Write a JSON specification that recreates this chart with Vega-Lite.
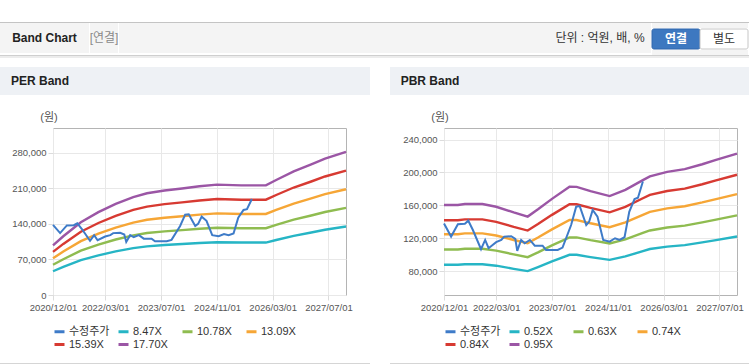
{
  "$schema": "https://vega.github.io/schema/vega-lite/v6.json",
  "padding": {"top": 22, "left": 0, "right": 0, "bottom": 0},
  "background": "#ffffff",
  "spacing": 0,
  "config": {
    "font": "'Liberation Sans', 'Noto Sans CJK KR', sans-serif",
    "view": {"stroke": null},
    "concat": {"spacing": 0}
  },
  "datasets": {
    "per": [
      {"date":"2020-12-01","series":"8.47X","value":46754},{"date":"2020-12-01","series":"10.78X","value":59506},{"date":"2020-12-01","series":"13.09X","value":72257},{"date":"2020-12-01","series":"15.39X","value":84953},{"date":"2020-12-01","series":"17.70X","value":97704},
      {"date":"2021-03-01","series":"8.47X","value":55394},{"date":"2021-03-01","series":"10.78X","value":70501},{"date":"2021-03-01","series":"13.09X","value":85609},{"date":"2021-03-01","series":"15.39X","value":100651},{"date":"2021-03-01","series":"17.70X","value":115758},
      {"date":"2021-08-01","series":"8.47X","value":68607},{"date":"2021-08-01","series":"10.78X","value":87318},{"date":"2021-08-01","series":"13.09X","value":106029},{"date":"2021-08-01","series":"15.39X","value":124659},{"date":"2021-08-01","series":"17.70X","value":143370},
      {"date":"2022-01-01","series":"8.47X","value":78093},{"date":"2022-01-01","series":"10.78X","value":99392},{"date":"2022-01-01","series":"13.09X","value":120690},{"date":"2022-01-01","series":"15.39X","value":141896},{"date":"2022-01-01","series":"17.70X","value":163194},
      {"date":"2022-06-01","series":"8.47X","value":85886},{"date":"2022-06-01","series":"10.78X","value":109309},{"date":"2022-06-01","series":"13.09X","value":132733},{"date":"2022-06-01","series":"15.39X","value":156055},{"date":"2022-06-01","series":"17.70X","value":179478},
      {"date":"2022-11-01","series":"8.47X","value":92323},{"date":"2022-11-01","series":"10.78X","value":117502},{"date":"2022-11-01","series":"13.09X","value":142681},{"date":"2022-11-01","series":"15.39X","value":167751},{"date":"2022-11-01","series":"17.70X","value":192930},
      {"date":"2023-03-01","series":"8.47X","value":95880},{"date":"2023-03-01","series":"10.78X","value":122030},{"date":"2023-03-01","series":"13.09X","value":148179},{"date":"2023-03-01","series":"15.39X","value":174215},{"date":"2023-03-01","series":"17.70X","value":200364},
      {"date":"2023-08-01","series":"8.47X","value":98506},{"date":"2023-08-01","series":"10.78X","value":125371},{"date":"2023-08-01","series":"13.09X","value":152237},{"date":"2023-08-01","series":"15.39X","value":178986},{"date":"2023-08-01","series":"17.70X","value":205851},
      {"date":"2024-01-01","series":"8.47X","value":100454},{"date":"2024-01-01","series":"10.78X","value":127851},{"date":"2024-01-01","series":"13.09X","value":155247},{"date":"2024-01-01","series":"15.39X","value":182525},{"date":"2024-01-01","series":"17.70X","value":209922},
      {"date":"2024-06-01","series":"8.47X","value":102487},{"date":"2024-06-01","series":"10.78X","value":130438},{"date":"2024-06-01","series":"13.09X","value":158389},{"date":"2024-06-01","series":"15.39X","value":186219},{"date":"2024-06-01","series":"17.70X","value":214170},
      {"date":"2024-11-01","series":"8.47X","value":104012},{"date":"2024-11-01","series":"10.78X","value":132378},{"date":"2024-11-01","series":"13.09X","value":160745},{"date":"2024-11-01","series":"15.39X","value":188989},{"date":"2024-11-01","series":"17.70X","value":217356},
      {"date":"2025-06-01","series":"8.47X","value":103334},{"date":"2025-06-01","series":"10.78X","value":131516},{"date":"2025-06-01","series":"13.09X","value":159698},{"date":"2025-06-01","series":"15.39X","value":187758},{"date":"2025-06-01","series":"17.70X","value":215940},
      {"date":"2026-01-01","series":"8.47X","value":103334},{"date":"2026-01-01","series":"10.78X","value":131516},{"date":"2026-01-01","series":"13.09X","value":159698},{"date":"2026-01-01","series":"15.39X","value":187758},{"date":"2026-01-01","series":"17.70X","value":215940},
      {"date":"2026-04-01","series":"8.47X","value":108416},{"date":"2026-04-01","series":"10.78X","value":137984},{"date":"2026-04-01","series":"13.09X","value":167552},{"date":"2026-04-01","series":"15.39X","value":196992},{"date":"2026-04-01","series":"17.70X","value":226560},
      {"date":"2026-09-01","series":"8.47X","value":116547},{"date":"2026-09-01","series":"10.78X","value":148333},{"date":"2026-09-01","series":"13.09X","value":180118},{"date":"2026-09-01","series":"15.39X","value":211766},{"date":"2026-09-01","series":"17.70X","value":243552},
      {"date":"2027-02-01","series":"8.47X","value":123069},{"date":"2027-02-01","series":"10.78X","value":156633},{"date":"2027-02-01","series":"13.09X","value":190198},{"date":"2027-02-01","series":"15.39X","value":223617},{"date":"2027-02-01","series":"17.70X","value":257181},
      {"date":"2027-06-01","series":"8.47X","value":128490},{"date":"2027-06-01","series":"10.78X","value":163533},{"date":"2027-06-01","series":"13.09X","value":198575},{"date":"2027-06-01","series":"15.39X","value":233466},{"date":"2027-06-01","series":"17.70X","value":268509},
      {"date":"2027-12-01","series":"8.47X","value":134842},{"date":"2027-12-01","series":"10.78X","value":171618},{"date":"2027-12-01","series":"13.09X","value":208393},{"date":"2027-12-01","series":"15.39X","value":245009},{"date":"2027-12-01","series":"17.70X","value":281784}
    ],
    "pbr": [
      {"date":"2020-12-01","series":"0.52X","value":87776},{"date":"2020-12-01","series":"0.63X","value":106344},{"date":"2020-12-01","series":"0.74X","value":124912},{"date":"2020-12-01","series":"0.84X","value":141792},{"date":"2020-12-01","series":"0.95X","value":160360},
      {"date":"2021-04-01","series":"0.52X","value":87776},{"date":"2021-04-01","series":"0.63X","value":106344},{"date":"2021-04-01","series":"0.74X","value":124912},{"date":"2021-04-01","series":"0.84X","value":141792},{"date":"2021-04-01","series":"0.95X","value":160360},
      {"date":"2021-06-01","series":"0.52X","value":88452},{"date":"2021-06-01","series":"0.63X","value":107163},{"date":"2021-06-01","series":"0.74X","value":125874},{"date":"2021-06-01","series":"0.84X","value":142884},{"date":"2021-06-01","series":"0.95X","value":161595},
      {"date":"2021-11-01","series":"0.52X","value":88452},{"date":"2021-11-01","series":"0.63X","value":107163},{"date":"2021-11-01","series":"0.74X","value":125874},{"date":"2021-11-01","series":"0.84X","value":142884},{"date":"2021-11-01","series":"0.95X","value":161595},
      {"date":"2022-03-01","series":"0.52X","value":86632},{"date":"2022-03-01","series":"0.63X","value":104958},{"date":"2022-03-01","series":"0.74X","value":123284},{"date":"2022-03-01","series":"0.84X","value":139944},{"date":"2022-03-01","series":"0.95X","value":158270},
      {"date":"2022-08-01","series":"0.52X","value":82836},{"date":"2022-08-01","series":"0.63X","value":100359},{"date":"2022-08-01","series":"0.74X","value":117882},{"date":"2022-08-01","series":"0.84X","value":133812},{"date":"2022-08-01","series":"0.95X","value":151335},
      {"date":"2022-12-01","series":"0.52X","value":80080},{"date":"2022-12-01","series":"0.63X","value":97020},{"date":"2022-12-01","series":"0.74X","value":113960},{"date":"2022-12-01","series":"0.84X","value":129360},{"date":"2022-12-01","series":"0.95X","value":146300},
      {"date":"2023-03-01","series":"0.52X","value":84916},{"date":"2023-03-01","series":"0.63X","value":102879},{"date":"2023-03-01","series":"0.74X","value":120842},{"date":"2023-03-01","series":"0.84X","value":137172},{"date":"2023-03-01","series":"0.95X","value":155135},
      {"date":"2023-07-01","series":"0.52X","value":91884},{"date":"2023-07-01","series":"0.63X","value":111321},{"date":"2023-07-01","series":"0.74X","value":130758},{"date":"2023-07-01","series":"0.84X","value":148428},{"date":"2023-07-01","series":"0.95X","value":167865},
      {"date":"2023-12-01","series":"0.52X","value":99892},{"date":"2023-12-01","series":"0.63X","value":121023},{"date":"2023-12-01","series":"0.74X","value":142154},{"date":"2023-12-01","series":"0.84X","value":161364},{"date":"2023-12-01","series":"0.95X","value":182495},
      {"date":"2024-02-01","series":"0.52X","value":99840},{"date":"2024-02-01","series":"0.63X","value":120960},{"date":"2024-02-01","series":"0.74X","value":142080},{"date":"2024-02-01","series":"0.84X","value":161280},{"date":"2024-02-01","series":"0.95X","value":182400},
      {"date":"2024-06-01","series":"0.52X","value":97084},{"date":"2024-06-01","series":"0.63X","value":117621},{"date":"2024-06-01","series":"0.74X","value":138158},{"date":"2024-06-01","series":"0.84X","value":156828},{"date":"2024-06-01","series":"0.95X","value":177365},
      {"date":"2024-11-15","series":"0.52X","value":93756},{"date":"2024-11-15","series":"0.63X","value":113589},{"date":"2024-11-15","series":"0.74X","value":133422},{"date":"2024-11-15","series":"0.84X","value":151452},{"date":"2024-11-15","series":"0.95X","value":171285},
      {"date":"2025-04-01","series":"0.52X","value":97864},{"date":"2025-04-01","series":"0.63X","value":118566},{"date":"2025-04-01","series":"0.74X","value":139268},{"date":"2025-04-01","series":"0.84X","value":158088},{"date":"2025-04-01","series":"0.95X","value":178790},
      {"date":"2025-09-01","series":"0.52X","value":104364},{"date":"2025-09-01","series":"0.63X","value":126441},{"date":"2025-09-01","series":"0.74X","value":148518},{"date":"2025-09-01","series":"0.84X","value":168588},{"date":"2025-09-01","series":"0.95X","value":190665},
      {"date":"2025-11-01","series":"0.52X","value":106860},{"date":"2025-11-01","series":"0.63X","value":129465},{"date":"2025-11-01","series":"0.74X","value":152070},{"date":"2025-11-01","series":"0.84X","value":172620},{"date":"2025-11-01","series":"0.95X","value":195225},
      {"date":"2026-04-01","series":"0.52X","value":109824},{"date":"2026-04-01","series":"0.63X","value":133056},{"date":"2026-04-01","series":"0.74X","value":156288},{"date":"2026-04-01","series":"0.84X","value":177408},{"date":"2026-04-01","series":"0.95X","value":200640},
      {"date":"2026-09-01","series":"0.52X","value":111644},{"date":"2026-09-01","series":"0.63X","value":135261},{"date":"2026-09-01","series":"0.74X","value":158878},{"date":"2026-09-01","series":"0.84X","value":180348},{"date":"2026-09-01","series":"0.95X","value":203965},
      {"date":"2027-02-01","series":"0.52X","value":114920},{"date":"2027-02-01","series":"0.63X","value":139230},{"date":"2027-02-01","series":"0.74X","value":163540},{"date":"2027-02-01","series":"0.84X","value":185640},{"date":"2027-02-01","series":"0.95X","value":209950},
      {"date":"2027-06-01","series":"0.52X","value":117780},{"date":"2027-06-01","series":"0.63X","value":142695},{"date":"2027-06-01","series":"0.74X","value":167610},{"date":"2027-06-01","series":"0.84X","value":190260},{"date":"2027-06-01","series":"0.95X","value":215175},
      {"date":"2027-12-01","series":"0.52X","value":122044},{"date":"2027-12-01","series":"0.63X","value":147861},{"date":"2027-12-01","series":"0.74X","value":173678},{"date":"2027-12-01","series":"0.84X","value":197148},{"date":"2027-12-01","series":"0.95X","value":222965}
    ],
    "price": [
      {"date":"2020-12-01","series":"수정주가","value":138000},{"date":"2021-02-01","series":"수정주가","value":122000},{"date":"2021-04-01","series":"수정주가","value":137000},{"date":"2021-06-01","series":"수정주가","value":137500},{"date":"2021-07-01","series":"수정주가","value":141300},{"date":"2021-08-10","series":"수정주가","value":130000},{"date":"2021-10-20","series":"수정주가","value":106700},{"date":"2021-11-25","series":"수정주가","value":117900},{"date":"2021-12-25","series":"수정주가","value":107900},{"date":"2022-03-01","series":"수정주가","value":115200},{"date":"2022-04-15","series":"수정주가","value":117900},{"date":"2022-05-10","series":"수정주가","value":121900},{"date":"2022-07-10","series":"수정주가","value":122400},{"date":"2022-08-15","series":"수정주가","value":119200},{"date":"2022-09-01","series":"수정주가","value":104600},{"date":"2022-10-05","series":"수정주가","value":117900},{"date":"2022-11-05","series":"수정주가","value":113900},{"date":"2022-12-20","series":"수정주가","value":117900},{"date":"2023-02-01","series":"수정주가","value":111000},{"date":"2023-04-10","series":"수정주가","value":111000},{"date":"2023-05-10","series":"수정주가","value":105800},{"date":"2023-08-20","series":"수정주가","value":105800},{"date":"2023-10-01","series":"수정주가","value":108600},{"date":"2023-12-15","series":"수정주가","value":136100},{"date":"2024-01-28","series":"수정주가","value":158300},{"date":"2024-02-28","series":"수정주가","value":159100},{"date":"2024-04-25","series":"수정주가","value":136100},{"date":"2024-05-20","series":"수정주가","value":140100},{"date":"2024-06-20","series":"수정주가","value":154300},{"date":"2024-08-01","series":"수정주가","value":146200},{"date":"2024-09-20","series":"수정주가","value":117900},{"date":"2024-11-15","series":"수정주가","value":115900},{"date":"2025-01-01","series":"수정주가","value":120000},{"date":"2025-02-10","series":"수정주가","value":117900},{"date":"2025-03-25","series":"수정주가","value":121200},{"date":"2025-05-05","series":"수정주가","value":152200},{"date":"2025-06-20","series":"수정주가","value":167600},{"date":"2025-07-20","series":"수정주가","value":169200},{"date":"2025-09-01","series":"수정주가","value":189000}
    ]
  },
  "vconcat": [
    {"width":749,"height":1,"data":{"values":[{}]},"mark":{"type":"rect","color":"#c4c4c4"},"encoding":{},"view":{"fill":"#c4c4c4","stroke":null}},
    {"hconcat": [
      {"width":89,"height":30,"data":{"values":[{"t":"Band Chart"}]},"mark":{"type":"text","fontSize":12,"fontWeight":"bold","color":"#222222"},"encoding":{"text":{"field":"t"}},"view":{"fill":"#f4f4f4","stroke":null}},
      {"width":28,"height":30,"data":{"values":[{"t":"[연결]"}]},"mark":{"type":"text","fontSize":12,"color":"#8a8a8a"},"encoding":{"text":{"field":"t"}},"view":{"fill":"#f4f4f4","stroke":null}},
      {"width":430,"height":30,"data":{"values":[{}]},"mark":{"type":"rect","color":"#f4f4f4"},"encoding":{},"view":{"fill":"#f4f4f4","stroke":null}},
      {"width":102,"height":30,"data":{"values":[{"t":"단위 : 억원, 배, %"}]},"mark":{"type":"text","fontSize":12,"color":"#333333"},"encoding":{"text":{"field":"t"}},"view":{"fill":"#f4f4f4","stroke":null}},
      {"vconcat": [
        {"width":96,"height":5,"data":{"values":[{}]},"mark":{"type":"rect","color":"#f4f4f4"},"encoding":{},"view":{"fill":"#f4f4f4","stroke":null}},
        {"width":96,"height":20,
         "data":{"values":[{"b":"연결","sel":"on"},{"b":"별도","sel":"off"}]},
         "view":{"stroke":null,"fill":"#f4f4f4"},
         "encoding":{"x":{"field":"b","type":"nominal","sort":null,"axis":null,"scale":{"paddingInner":0,"paddingOuter":0}}},
         "layer":[
           {"mark":{"type":"rect","strokeWidth":1,"cornerRadius":2},
            "encoding":{"fill":{"field":"sel","type":"nominal","scale":{"domain":["on","off"],"range":["#3d78c0","#ffffff"]},"legend":null},
                        "stroke":{"field":"sel","type":"nominal","scale":{"domain":["on","off"],"range":["#3067ac","#c6c6c6"]},"legend":null}}},
           {"transform":[{"filter":"datum.sel == 'on'"}],"mark":{"type":"text","fontSize":12,"fontWeight":"bold","color":"#ffffff"},"encoding":{"text":{"field":"b"}}},
           {"transform":[{"filter":"datum.sel == 'off'"}],"mark":{"type":"text","fontSize":12,"color":"#333333"},"encoding":{"text":{"field":"b"}}}
         ]},
        {"width":96,"height":5,"data":{"values":[{}]},"mark":{"type":"rect","color":"#f4f4f4"},"encoding":{},"view":{"fill":"#f4f4f4","stroke":null}}
      ]},
      {"width":4,"height":30,"data":{"values":[{}]},"mark":{"type":"rect","color":"#f4f4f4"},"encoding":{},"view":{"fill":"#f4f4f4","stroke":null}}
    ]},
    {"width":749,"height":1,"data":{"values":[{}]},"mark":{"type":"rect","color":"#cfcfcf"},"encoding":{},"view":{"fill":"#cfcfcf","stroke":null}},
    {"width":749,"height":2,"data":{"values":[{}]},"mark":{"type":"rect","color":"#ececec"},"encoding":{},"view":{"fill":"#ececec","stroke":null}},
    {"width":749,"height":9,"data":{"values":[{}]},"mark":{"type":"rect","color":"#ffffff"},"encoding":{},"view":{"fill":"#ffffff","stroke":null}},
    {"hconcat": [
      {"width":80,"height":28,"data":{"values":[{"t":"PER Band"}]},"mark":{"type":"text","fontSize":12,"fontWeight":"bold","color":"#222222"},"encoding":{"text":{"field":"t"}},"view":{"fill":"#eef1f5","stroke":null}},
      {"width":290,"height":28,"data":{"values":[{}]},"mark":{"type":"rect","color":"#eef1f5"},"encoding":{},"view":{"fill":"#eef1f5","stroke":null}},
      {"width":20,"height":28,"data":{"values":[{}]},"mark":{"type":"rect","color":"#ffffff"},"encoding":{},"view":{"fill":"#ffffff","stroke":null}},
      {"width":80,"height":28,"data":{"values":[{"t":"PBR Band"}]},"mark":{"type":"text","fontSize":12,"fontWeight":"bold","color":"#222222"},"encoding":{"text":{"field":"t"}},"view":{"fill":"#eef1f5","stroke":null}},
      {"width":279,"height":28,"data":{"values":[{}]},"mark":{"type":"rect","color":"#eef1f5"},"encoding":{},"view":{"fill":"#eef1f5","stroke":null}}
    ]},
    {"width":749,"height":15,"data":{"values":[{}]},"mark":{"type":"rect","color":"#ffffff"},"encoding":{},"view":{"fill":"#ffffff","stroke":null}},
    {"hconcat": [
      {"width":11,"height":1,"data":{"values":[{}]},"mark":{"type":"rect","color":"#ffffff"},"encoding":{},"view":{"fill":"#ffffff","stroke":null}},
      {
        "width":293,"height":167,
        "view":{"stroke":"#b4b4b4"},
        "encoding":{
          "x":{"field":"date","type":"temporal",
               "scale":{"type":"utc","domain":[{"year":2020,"month":12,"date":1,"utc":true},{"year":2027,"month":12,"date":1,"utc":true}]},
               "axis":{"values":[{"year":2020,"month":12,"date":1,"utc":true},{"year":2022,"month":3,"date":1,"utc":true},{"year":2023,"month":7,"date":1,"utc":true},{"year":2024,"month":11,"date":1,"utc":true},{"year":2026,"month":3,"date":1,"utc":true},{"year":2027,"month":7,"date":1,"utc":true}],
                       "format":"%Y/%m/%d","title":null,"domain":false,"labelFontSize":9.5,"labelColor":"#555555","labelPadding":2,"tickSize":5,"tickColor":"#dcdcdc","gridColor":"#e8e8e8","labelOverlap":false,"labelFlush":false}},
          "y":{"field":"value","type":"quantitative",
               "scale":{"domain":[0,329000],"nice":false,"zero":false},
               "axis":{"values":[0,70000,140000,210000,280000],"format":",.0f","domain":false,"labelFontSize":9.5,"labelColor":"#555555","labelPadding":2,"tickSize":5,"tickColor":"#dcdcdc","gridColor":"#e8e8e8",
                       "title":"(원)","titleAngle":0,"titleAlign":"center","titleBaseline":"middle","titleX":-4.5,"titleY":-11,"titleFontSize":11,"titleFontWeight":"normal","titleColor":"#555555"}},
          "color":{"field":"series","type":"nominal",
                   "scale":{"domain":["수정주가","8.47X","10.78X","13.09X","15.39X","17.70X"],"range":["#3e7bc8","#26b5c5","#8fbc50","#f6a636","#d73a32","#9b56a5"]},
                   "legend":{"title":null,"orient":"bottom","direction":"horizontal","columns":4,"gridAlign":"all","symbolType":"stroke","symbolSize":100,"symbolStrokeWidth":3,"labelFontSize":11,"labelColor":"#333333","labelOffset":3,"columnPadding":2,"rowPadding":-1,"offset":13,"padding":0}}
        },
        "layer":[
          {"data":{"name":"per"},"mark":{"type":"line","strokeWidth":2.4}},
          {"data":{"name":"price"},"mark":{"type":"line","strokeWidth":2}}
        ]
      },
      {"width":49,"height":1,"data":{"values":[{}]},"mark":{"type":"rect","color":"#ffffff"},"encoding":{},"view":{"fill":"#ffffff","stroke":null}},
      {
        "width":293,"height":167,
        "view":{"stroke":"#b4b4b4"},
        "encoding":{
          "x":{"field":"date","type":"temporal",
               "scale":{"type":"utc","domain":[{"year":2020,"month":12,"date":1,"utc":true},{"year":2027,"month":12,"date":1,"utc":true}]},
               "axis":{"values":[{"year":2020,"month":12,"date":1,"utc":true},{"year":2022,"month":3,"date":1,"utc":true},{"year":2023,"month":7,"date":1,"utc":true},{"year":2024,"month":11,"date":1,"utc":true},{"year":2026,"month":3,"date":1,"utc":true},{"year":2027,"month":7,"date":1,"utc":true}],
                       "format":"%Y/%m/%d","title":null,"domain":false,"labelFontSize":9.5,"labelColor":"#555555","labelPadding":2,"tickSize":5,"tickColor":"#dcdcdc","gridColor":"#e8e8e8","labelOverlap":false,"labelFlush":false}},
          "y":{"field":"value","type":"quantitative",
               "scale":{"domain":[51000,254000],"nice":false,"zero":false},
               "axis":{"values":[80000,120000,160000,200000,240000],"format":",.0f","domain":false,"labelFontSize":9.5,"labelColor":"#555555","labelPadding":2,"tickSize":5,"tickColor":"#dcdcdc","gridColor":"#e8e8e8",
                       "title":"(원)","titleAngle":0,"titleAlign":"center","titleBaseline":"middle","titleX":-4.5,"titleY":-11,"titleFontSize":11,"titleFontWeight":"normal","titleColor":"#555555"}},
          "color":{"field":"series","type":"nominal",
                   "scale":{"domain":["수정주가","0.52X","0.63X","0.74X","0.84X","0.95X"],"range":["#3e7bc8","#26b5c5","#8fbc50","#f6a636","#d73a32","#9b56a5"]},
                   "legend":{"title":null,"orient":"bottom","direction":"horizontal","columns":4,"gridAlign":"all","symbolType":"stroke","symbolSize":100,"symbolStrokeWidth":3,"labelFontSize":11,"labelColor":"#333333","labelOffset":3,"columnPadding":2,"rowPadding":-1,"offset":13,"padding":0}}
        },
        "layer":[
          {"data":{"name":"pbr"},"mark":{"type":"line","strokeWidth":2.4}},
          {"data":{"name":"price"},"mark":{"type":"line","strokeWidth":2}}
        ]
      }
    ],
    "resolve":{"scale":{"color":"independent"},"legend":{"color":"independent"}}},
    {"width":749,"height":11,"data":{"values":[{}]},"mark":{"type":"rect","color":"#ffffff"},"encoding":{},"view":{"fill":"#ffffff","stroke":null}},
    {"hconcat": [
      {"width":370,"height":1,"data":{"values":[{}]},"mark":{"type":"rect","color":"#d5d5d5"},"encoding":{},"view":{"fill":"#d5d5d5","stroke":null}},
      {"width":20,"height":1,"data":{"values":[{}]},"mark":{"type":"rect","color":"#ffffff"},"encoding":{},"view":{"fill":"#ffffff","stroke":null}},
      {"width":359,"height":1,"data":{"values":[{}]},"mark":{"type":"rect","color":"#d5d5d5"},"encoding":{},"view":{"fill":"#d5d5d5","stroke":null}}
    ]}
  ],
  "resolve":{"scale":{"color":"independent"},"legend":{"color":"independent"}}
}
